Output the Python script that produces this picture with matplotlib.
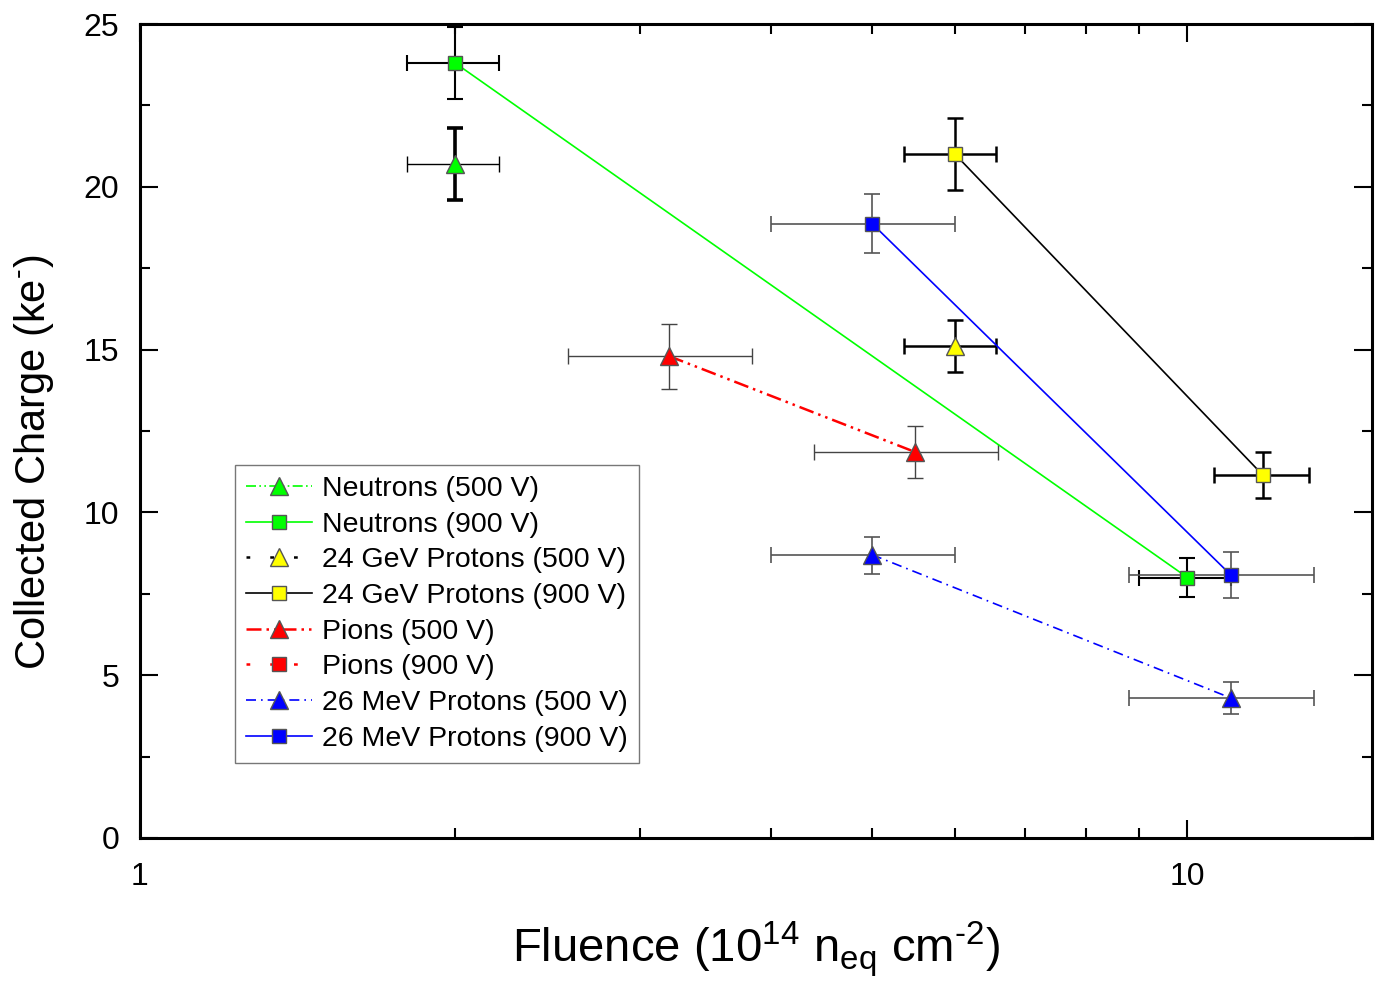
import matplotlib
matplotlib.use("Agg")
import matplotlib.pyplot as plt
from matplotlib.ticker import MultipleLocator, NullFormatter, FixedLocator, FixedFormatter

plt.rcParams["font.family"] = ["Liberation Sans", "DejaVu Sans"]
plt.rcParams["mathtext.fontset"] = "custom"
plt.rcParams["mathtext.rm"] = "Liberation Sans"
plt.rcParams["mathtext.default"] = "regular"

# series data: fluence (1e14 neq/cm2), charge (ke-)
neu500_x = [2.0]
neu500_y = [20.7]
neu500_xerr = [[0.2], [0.2]]
neu500_yerr = [[1.1], [1.1]]

neu900_x = [2.0, 10.0]
neu900_y = [23.8, 8.0]
neu900_xerr = [[0.2, 1.0], [0.2, 1.0]]
neu900_yerr = [[1.1, 0.6], [1.1, 0.6]]

gev500_x = [6.0]
gev500_y = [15.1]
gev500_xerr = [[0.64], [0.56]]
gev500_yerr = [[0.8], [0.8]]

gev900_x = [6.0, 11.8]
gev900_y = [21.0, 11.15]
gev900_xerr = [[0.64, 1.2], [0.56, 1.25]]
gev900_yerr = [[1.1, 0.7], [1.1, 0.7]]

pi500_x = [3.2, 5.5]
pi500_y = [14.8, 11.85]
pi500_xerr = [[0.64, 1.1], [0.64, 1.1]]
pi500_yerr = [[1.0, 0.8], [1.0, 0.8]]

pi900_x = []
pi900_y = []

mev500_x = [5.0, 11.0]
mev500_y = [8.7, 4.3]
mev500_xerr = [[1.0, 2.2], [1.0, 2.2]]
mev500_yerr = [[0.6, 0.5], [0.55, 0.5]]

mev900_x = [5.0, 11.0]
mev900_y = [18.87, 8.08]
mev900_xerr = [[1.0, 2.2], [1.0, 2.2]]
mev900_yerr = [[0.9, 0.7], [0.9, 0.7]]

fig = plt.figure(figsize=(13.76, 9.84), dpi=100)
ax = fig.add_subplot(111)
fig.subplots_adjust(left=0.1017, right=0.997, bottom=0.1484, top=0.9756)


def err(x, y, xerr, yerr, color, xlw=1.2, ylw=1.2):
    ax.errorbar(x, y, xerr=xerr, fmt="none", ecolor=color, elinewidth=xlw,
                capsize=6, capthick=xlw, zorder=2)
    ax.errorbar(x, y, yerr=yerr, fmt="none", ecolor=color, elinewidth=ylw,
                capsize=6, capthick=ylw, zorder=2)


err(neu500_x, neu500_y, neu500_xerr, neu500_yerr, "black", 1.0, 2.6)
err(neu900_x, neu900_y, neu900_xerr, neu900_yerr, "black", 1.5, 1.5)
err(gev500_x, gev500_y, gev500_xerr, gev500_yerr, "black", 1.8, 1.8)
err(gev900_x, gev900_y, gev900_xerr, gev900_yerr, "black", 1.8, 1.8)
err(pi500_x, pi500_y, pi500_xerr, pi500_yerr, "#444444", 1.0, 1.0)
err(mev500_x, mev500_y, mev500_xerr, mev500_yerr, "#555555", 1.2, 1.2)
err(mev900_x, mev900_y, mev900_xerr, mev900_yerr, "#555555", 1.2, 1.2)

mk = dict(markeredgecolor="#555555", markeredgewidth=1.0, zorder=3)
dashdotdot = (0, (6, 2, 1, 2, 1, 2))
ax.plot(neu500_x, neu500_y, color="#00ff00", ls=dashdotdot, lw=1.2, marker="^",
        ms=13, markerfacecolor="#00ff00", label="Neutrons (500 V)", **mk)
ax.plot(neu900_x, neu900_y, color="#00ff00", ls="-", lw=1.2, marker="s",
        ms=10, markerfacecolor="#00ff00", label="Neutrons (900 V)", **mk)
ax.plot(gev500_x, gev500_y, color="black", ls=(0, (1.5, 8)), lw=1.8, marker="^",
        ms=13, markerfacecolor="#ffff00", label="24 GeV Protons (500 V)", **mk)
ax.plot(gev900_x, gev900_y, color="black", ls="-", lw=1.2, marker="s",
        ms=10, markerfacecolor="#ffff00", label="24 GeV Protons (900 V)", **mk)
ax.plot(pi500_x, pi500_y, color="#ff0000", ls=dashdotdot, lw=1.8, marker="^",
        ms=13, markerfacecolor="#ff0000", label="Pions (500 V)", **mk)
ax.plot(pi900_x, pi900_y, color="#ff0000", ls=(0, (1.5, 8)), lw=1.8, marker="s",
        ms=10, markerfacecolor="#ff0000", label="Pions (900 V)", **mk)
ax.plot(mev500_x, mev500_y, color="#0000ff", ls=(0, (6, 3, 1, 3)), lw=1.2, marker="^",
        ms=13, markerfacecolor="#0000ff", label="26 MeV Protons (500 V)", **mk)
ax.plot(mev900_x, mev900_y, color="#0000ff", ls="-", lw=1.2, marker="s",
        ms=10, markerfacecolor="#0000ff", label="26 MeV Protons (900 V)", **mk)

ax.set_xscale("log")
ax.set_xlim(1, 15)
ax.set_ylim(0, 25)
ax.xaxis.set_major_locator(FixedLocator([1, 10]))
ax.xaxis.set_major_formatter(FixedFormatter(["1", "10"]))
ax.xaxis.set_minor_locator(FixedLocator([2, 3, 4, 5, 6, 7, 8, 9]))
ax.xaxis.set_minor_formatter(NullFormatter())
ax.yaxis.set_major_locator(MultipleLocator(5))
ax.yaxis.set_minor_locator(MultipleLocator(2.5))

ax.tick_params(which="both", direction="in", top=True, right=True, width=1.5)
ax.tick_params(which="major", length=13, labelsize=23, pad=15)
ax.tick_params(which="minor", length=7)
ax.tick_params(axis="x", which="major", pad=17)
for s in ax.spines.values():
    s.set_linewidth(2.2)

ax.set_xlabel("Fluence (10$^{14}$ n$_{eq}$ cm$^{\u20102}$)", fontsize=34, labelpad=20)
ax.set_ylabel("Collected Charge (ke$^{\u2010}$)", fontsize=30)
ax.yaxis.set_label_coords(-0.068, 0.462)

leg = ax.legend(loc="lower left", bbox_to_anchor=(0.077, 0.092), borderaxespad=0,
                fontsize=20.5, handlelength=2.3, labelspacing=0.34, handletextpad=0.35,
                fancybox=False, framealpha=1, edgecolor="#777777", borderpad=0.4)
leg.get_frame().set_linewidth(1.0)

fig.savefig("out.png", dpi=100)
